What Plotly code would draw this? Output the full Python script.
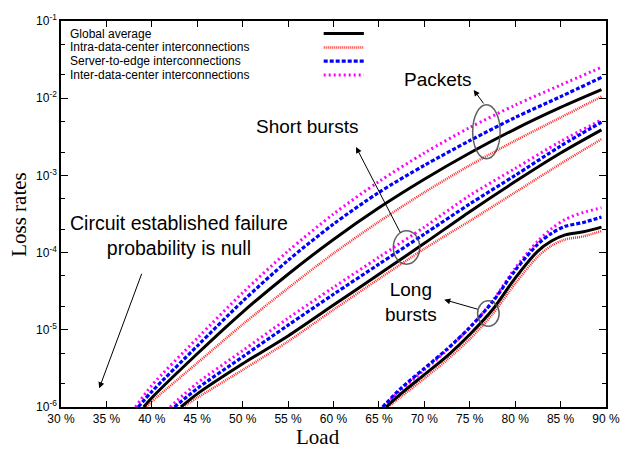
import plotly.graph_objects as go

# ---------------- data (log10 of loss rate) ----------------
# Packets
pk_glob_load = [39.1, 40, 45, 50, 55, 60, 65, 70, 75, 80, 85, 89.5]
pk_glob_log = [-6.0, -5.88, -5.31, -4.77, -4.28, -3.83, -3.42, -3.05, -2.71, -2.40, -2.12, -1.89]
pk_intra_load = [39.4, 40, 45, 50, 55, 60, 65, 70, 75, 80, 85, 89.5]
pk_intra_log = [-6.0, -5.93, -5.43, -4.93, -4.46, -4.01, -3.60, -3.22, -2.87, -2.55, -2.25, -1.98]
pk_srv_load = [38.5, 40, 45, 50, 55, 60, 65, 70, 75, 80, 85, 89.5]
pk_srv_log = [-6.0, -5.80, -5.21, -4.63, -4.10, -3.63, -3.22, -2.87, -2.55, -2.25, -1.98, -1.73]
pk_inter_load = [38.2, 40, 45, 50, 55, 60, 65, 70, 75, 80, 85, 89.5]
pk_inter_log = [-6.0, -5.72, -5.11, -4.52, -3.98, -3.50, -3.08, -2.71, -2.38, -2.09, -1.83, -1.60]

# Short bursts
sb_glob_load = [43.2, 45, 50, 55, 60, 65, 70, 75, 80, 85, 89.5]
sb_glob_log = [-6.0, -5.83, -5.44, -5.08, -4.68, -4.28, -3.88, -3.47, -3.08, -2.71, -2.41]
sb_intra_load = [43.4, 45, 50, 55, 60, 65, 70, 75, 80, 85, 89.5]
sb_intra_log = [-6.0, -5.88, -5.52, -5.15, -4.74, -4.34, -3.95, -3.59, -3.22, -2.85, -2.53]
sb_srv_load = [42.5, 45, 50, 55, 60, 65, 70, 75, 80, 85, 89.5]
sb_srv_log = [-6.0, -5.76, -5.35, -4.94, -4.54, -4.15, -3.76, -3.37, -3.00, -2.62, -2.31]
sb_inter_load = [42.0, 45, 50, 55, 60, 65, 70, 75, 80, 85, 89.5]
sb_inter_log = [-6.0, -5.69, -5.27, -4.85, -4.45, -4.06, -3.67, -3.26, -2.91, -2.56, -2.28]

# Long bursts
lb_load = [67.5, 70, 72.5, 75, 77.5, 80, 82.5, 84, 85.5, 87.5, 89.5]
lb_glob_start, lb_intra_start, lb_srv_start, lb_inter_start = 65.8, 66.0, 65.4, 65.5
lb_glob_log = [-5.82, -5.58, -5.34, -5.06, -4.74, -4.33, -3.98, -3.85, -3.77, -3.73, -3.67]
lb_intra_log = [-5.86, -5.63, -5.39, -5.12, -4.80, -4.40, -4.05, -3.91, -3.83, -3.79, -3.72]
lb_srv_log = [-5.75, -5.50, -5.25, -4.97, -4.64, -4.23, -3.89, -3.75, -3.66, -3.61, -3.54]
lb_inter_log = [-5.77, -5.52, -5.26, -4.97, -4.63, -4.20, -3.85, -3.69, -3.57, -3.48, -3.42]

series_names = ["Global average", "Intra-data-center interconnections",
                "Server-to-edge interconnections", "Inter-data-center interconnections"]
x_ticks = [30, 35, 40, 45, 50, 55, 60, 65, 70, 75, 80, 85, 90]
x_ticktext = [f"{v} %" for v in x_ticks]
y_exps = [-6, -5, -4, -3, -2, -1]
y_ticktext = [f"10<sup>{e}</sup>" for e in y_exps]

# ---------------- styles ----------------
styles = [
    dict(color="black", width=3, dash="solid"),
    dict(color="#ff2a2a", width=2.5, dash="1px,1px"),
    dict(color="#0000ff", width=3.2, dash="4px,2px"),
    dict(color="#ff00ff", width=3, dash="2px,3px"),
]

fig = go.Figure()

groups = [
    [(pk_glob_load, pk_glob_log), (pk_intra_load, pk_intra_log),
     (pk_srv_load, pk_srv_log), (pk_inter_load, pk_inter_log)],
    [(sb_glob_load, sb_glob_log), (sb_intra_load, sb_intra_log),
     (sb_srv_load, sb_srv_log), (sb_inter_load, sb_inter_log)],
    [([lb_glob_start] + lb_load, [-6.0] + lb_glob_log),
     ([lb_intra_start] + lb_load, [-6.0] + lb_intra_log),
     ([lb_srv_start] + lb_load, [-6.0] + lb_srv_log),
     ([lb_inter_start] + lb_load, [-6.0] + lb_inter_log)],
]

order = [3, 2, 1, 0]
for grp in groups:
    for i in order:
        xs, ls = grp[i]
        fig.add_trace(go.Scatter(
            x=xs, y=[10 ** v for v in ls], mode="lines", name=series_names[i],
            line=dict(shape="spline", smoothing=0.8, **styles[i]),
            showlegend=False, hoverinfo="skip"))

W, H = 632, 449
L, R, T, B = 61, 15, 15, 42
pw, ph = W - L - R, H - T - B


def px(x):
    return (x - L) / pw


def py(y):
    return (H - B - y) / ph


font_txt = "Liberation Sans, Arial, sans-serif"
font_serif = "Liberation Serif, Times New Roman, serif"

annotations = []
shapes = []

# legend (manual: text left, sample on right)
leg_y = [27.7, 41.8, 55.8, 69.8]
for i, name in enumerate(series_names):
    annotations.append(dict(xref="paper", yref="paper", x=px(68), y=py(leg_y[i]),
                            text=name, showarrow=False, xanchor="left", yanchor="middle",
                            font=dict(family=font_txt, size=12, color="black")))
    shapes.append(dict(type="line", xref="paper", yref="paper",
                       x0=px(329), x1=px(370), y0=py(leg_y[i]), y1=py(leg_y[i]),
                       line=dict(color=styles[i]["color"], width=styles[i]["width"],
                                 dash=styles[i]["dash"])))


def label(text, x, y, size=19):
    annotations.append(dict(xref="paper", yref="paper", x=px(x), y=py(y), text=text,
                            showarrow=False, xanchor="center", yanchor="middle",
                            font=dict(family=font_txt, size=size, color="black")))


label("Packets", 446, 74)
label("Short bursts", 312, 122)
label("Long<br>bursts", 418, 300)
label("Circuit established failure<br>probability is null", 181, 233, size=19.5)


def arrow(tx, ty, ax, ay):
    annotations.append(dict(xref="paper", yref="paper", x=px(tx), y=py(ty), ax=ax, ay=ay,
                            text="", showarrow=True, arrowhead=2, arrowsize=1.2,
                            arrowwidth=1, arrowcolor="black"))


arrow(482, 85, 11, 15)
arrow(362, 143, 45, 87)
arrow(452, 298, 35, 10)
arrow(100, 388, 43, -116)

for (x0, y0, x1, y1) in [(481, 100, 509, 155), (400, 228, 427, 262), (486, 299, 508, 325)]:
    shapes.append(dict(type="circle", xref="paper", yref="paper",
                       x0=px(x0), x1=px(x1), y0=py(y1), y1=py(y0),
                       line=dict(color="rgba(70,70,70,0.85)", width=1.5)))

annotations.append(dict(xref="paper", yref="paper", x=px(323), y=py(437), text="Load",
                        showarrow=False, xanchor="center", yanchor="middle",
                        font=dict(family=font_serif, size=21, color="black")))
annotations.append(dict(xref="paper", yref="paper", x=px(18), y=py(211), text="Loss rates",
                        showarrow=False, xanchor="center", yanchor="middle", textangle=-90,
                        font=dict(family=font_serif, size=21, color="black")))

fig.update_layout(
    width=W, height=H,
    margin=dict(l=L, r=R, t=T, b=B, pad=0),
    paper_bgcolor="white", plot_bgcolor="white",
    annotations=annotations, shapes=shapes,
    xaxis=dict(range=[30, 90], tickvals=x_ticks, ticktext=x_ticktext,
               ticks="inside", ticklen=6, tickwidth=1, tickcolor="black",
               showline=True, linecolor="black", linewidth=1.5, mirror="ticks",
               showgrid=False, zeroline=False,
               tickfont=dict(family=font_txt, size=12, color="black")),
    yaxis=dict(type="log", range=[-6, -1], tickvals=[10 ** e for e in y_exps],
               ticktext=y_ticktext,
               ticks="inside", ticklen=7, tickwidth=1, tickcolor="black",
               showline=True, linecolor="black", linewidth=1.5, mirror="ticks",
               showgrid=False, zeroline=False,
               minor=dict(ticks="inside", ticklen=4, tickcolor="black", dtick="D2",
                          showgrid=False),
               tickfont=dict(family=font_txt, size=12, color="black")),
)

fig.write_html("out.html", config={"displayModeBar": False},
               post_script="document.body.style.margin='0px';document.body.style.padding='0px';")
